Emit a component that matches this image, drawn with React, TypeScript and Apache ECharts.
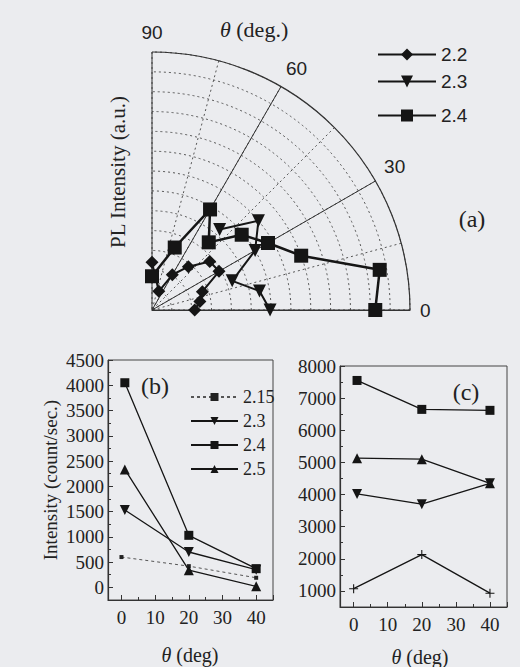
import React, { useEffect, useRef } from 'react';
import * as echarts from 'echarts';

// ---------- panel (a): polar ----------
const polarLegendNames = ['2.2', '2.3', '2.4'];
const angles22 = [90, 70, 60, 50, 40, 30, 20, 10, 0];
const radius22 = [48, 20, 41, 57, 76, 78, 54, 49, 43];
const angles23 = [50, 40, 30, 20, 10, 0];
const radius23 = [106, 140, 120, 86, 110, 119];
const angles24 = [90, 70, 60, 50, 40, 30, 20, 10, 0];
const radius24 = [34, 67, 117, 89, 118, 135, 160, 233, 225];

// ---------- panel (b) ----------
const bNames = ['2.15', '2.3', '2.4', '2.5'];
const bX215 = [0, 20, 40];
const bY215 = [600, 420, 190];
const bX = [1, 20, 40];
const bY23 = [1530, 700, 350];
const bY24 = [4050, 1030, 370];
const bY25 = [2335, 340, 20];

// ---------- panel (c) ----------
const cX215 = [0, 20, 40];
const cY215 = [1070, 2130, 930];
const cX = [1, 20, 40];
const cY23 = [4020, 3700, 4350];
const cY24 = [7550, 6650, 6620];
const cY25 = [5130, 5100, 4350];

const INK = '#151515';
const SERIF = 'Liberation Serif';
const SANS = 'Liberation Sans';
const PLUS = 'path://M4.4,0H5.6V4.4H10V5.6H5.6V10H4.4V5.6H0V4.4H4.4Z';

const zip = (xs: number[], ys: number[]) => xs.map((x, i) => [x, ys[i]]);
const polarData = (rs: number[], as: number[]) => rs.map((r, i) => [r, as[i]]);

export default function App() {
  const ref = useRef<HTMLDivElement>(null);
  useEffect(() => {
    if (!ref.current) return;
    const chart = echarts.init(ref.current, undefined, { renderer: 'svg' });

    const xAxisCommon = (gridIndex: number) => ({
      gridIndex,
      type: 'value',
      min: -4,
      max: 45,
      splitNumber: 5,
      axisLine: { onZero: false, lineStyle: { color: '#333', width: 1.2 } },
      axisTick: { inside: true, length: 5, lineStyle: { color: '#333' } },
      minorTick: { show: true, splitNumber: 2, length: 3, lineStyle: { color: '#333' } },
      axisLabel: {
        fontFamily: SERIF, fontSize: 19, color: '#222', margin: 8,
        formatter: (v: number) => (v >= 0 && v <= 40 && v % 10 === 0 ? String(v) : ''),
      },
      splitLine: { show: false },
    });
    const yAxisCommon = (gridIndex: number, min: number, max: number, split: number) => ({
      gridIndex,
      type: 'value',
      min,
      max,
      splitNumber: split,
      axisLine: { show: true, onZero: false, lineStyle: { color: '#333', width: 1.2 } },
      axisTick: { inside: true, length: 5, lineStyle: { color: '#333' } },
      minorTick: { show: true, splitNumber: 2, length: 3, lineStyle: { color: '#333' } },
      axisLabel: {
        fontFamily: SERIF, fontSize: 19, color: '#222', margin: 4,
        formatter: (v: number) => (v >= 0 && v % 500 === 0 && (min >= 0 ? v % 1000 === 0 : true) ? String(v) : ''),
      },
      splitLine: { show: false },
    });

    const legendItem = (name: string, left: number, top: number, w: number, h: number, size: number, font: string) => ({
      data: [name],
      left,
      top,
      padding: 0,
      itemWidth: w,
      itemHeight: h,
      itemGap: 0,
      selectedMode: false,
      formatter: (n: string) => n.slice(1),
      textStyle: { fontFamily: font, fontSize: size, color: '#222', padding: [0, 0, 0, 0] },
    });

    const option: any = {
      animation: false,
      polar: [
        { center: [152, 310], radius: 258 },
        { center: [152, 310], radius: 258 },
      ],
      angleAxis: [
        {
          polarIndex: 0, type: 'value', min: 0, max: 90, interval: 15,
          startAngle: 0, endAngle: 90, clockwise: false,
          axisLine: { show: true, lineStyle: { color: '#333', width: 1.2 } },
          axisTick: { show: false }, axisLabel: { show: false },
          splitLine: { show: true, lineStyle: { color: '#555', width: 1, type: [2, 3] } },
        },
        {
          polarIndex: 1, type: 'value', min: 0, max: 90, interval: 30,
          startAngle: 0, endAngle: 90, clockwise: false,
          axisLine: { show: false }, axisTick: { show: false },
          axisLabel: { show: true, margin: 10, fontSize: 19, color: '#222', fontFamily: SANS },
          splitLine: { show: true, lineStyle: { color: '#333', width: 1 } },
        },
      ],
      radiusAxis: [
        {
          polarIndex: 0, type: 'value', min: 0, max: 260, interval: 20,
          axisLine: { show: true, lineStyle: { color: '#333', width: 1.2 } },
          axisTick: { show: false }, axisLabel: { show: false },
          splitLine: { show: true, lineStyle: { color: '#555', width: 1, type: [2, 3] } },
        },
        {
          polarIndex: 1, type: 'value', min: 0, max: 260, interval: 20,
          axisLine: { show: false }, axisTick: { show: false }, axisLabel: { show: false },
          splitLine: { show: false },
        },
      ],
      grid: [
        { left: 108, top: 360, width: 165, height: 240, show: true, borderColor: '#444', borderWidth: 1, backgroundColor: 'transparent' },
        { left: 340, top: 366, width: 167, height: 241, show: true, borderColor: '#444', borderWidth: 1, backgroundColor: 'transparent' },
      ],
      xAxis: [xAxisCommon(0), xAxisCommon(1)],
      yAxis: [yAxisCommon(0, -250, 4500, 10), yAxisCommon(1, 500, 8000, 8)],
      legend: [
        legendItem('a' + polarLegendNames[0], 377, 45, 58, 15, 19, SANS),
        legendItem('a' + polarLegendNames[1], 377, 72, 58, 15, 19, SANS),
        legendItem('a' + polarLegendNames[2], 377, 106, 58, 15, 19, SANS),
        legendItem('b' + bNames[0], 190, 388, 47, 10, 18, SERIF),
        legendItem('b' + bNames[1], 190, 412, 47, 10, 18, SERIF),
        legendItem('b' + bNames[2], 190, 436, 47, 10, 18, SERIF),
        legendItem('b' + bNames[3], 190, 460, 47, 10, 18, SERIF),
      ],
      series: [
        {
          type: 'line', name: 'a' + polarLegendNames[0], coordinateSystem: 'polar', polarIndex: 0,
          data: polarData(radius22, angles22), symbol: 'diamond', symbolSize: 13,
          lineStyle: { color: INK, width: 2 }, itemStyle: { color: INK }, z: 3,
        },
        {
          type: 'line', name: 'a' + polarLegendNames[1], coordinateSystem: 'polar', polarIndex: 0,
          data: polarData(radius23, angles23), symbol: 'triangle', symbolRotate: 180, symbolSize: 13,
          lineStyle: { color: INK, width: 2 }, itemStyle: { color: INK }, z: 3,
        },
        {
          type: 'line', name: 'a' + polarLegendNames[2], coordinateSystem: 'polar', polarIndex: 0,
          data: polarData(radius24, angles24), symbol: 'rect', symbolSize: 14,
          lineStyle: { color: INK, width: 2.5 }, itemStyle: { color: INK }, z: 4,
        },
        // panel b
        {
          type: 'line', name: 'b' + bNames[0], xAxisIndex: 0, yAxisIndex: 0, data: zip(bX215, bY215),
          symbol: 'rect', symbolSize: 4, lineStyle: { color: '#555', width: 1, type: [3, 3] }, itemStyle: { color: '#222' },
        },
        {
          type: 'line', name: 'b' + bNames[1], xAxisIndex: 0, yAxisIndex: 0, data: zip(bX, bY23),
          symbol: 'triangle', symbolRotate: 180, symbolSize: 10, lineStyle: { color: INK, width: 1.3 }, itemStyle: { color: INK },
        },
        {
          type: 'line', name: 'b' + bNames[2], xAxisIndex: 0, yAxisIndex: 0, data: zip(bX, bY24),
          symbol: 'rect', symbolSize: 9, lineStyle: { color: INK, width: 1.3 }, itemStyle: { color: INK },
        },
        {
          type: 'line', name: 'b' + bNames[3], xAxisIndex: 0, yAxisIndex: 0, data: zip(bX, bY25),
          symbol: 'triangle', symbolSize: 10, lineStyle: { color: INK, width: 1.3 }, itemStyle: { color: INK },
        },
        // panel c
        {
          type: 'line', name: 'c2.15', xAxisIndex: 1, yAxisIndex: 1, data: zip(cX215, cY215),
          symbol: PLUS, symbolSize: 9, lineStyle: { color: INK, width: 1.3 }, itemStyle: { color: INK },
        },
        {
          type: 'line', name: 'c2.3', xAxisIndex: 1, yAxisIndex: 1, data: zip(cX, cY23),
          symbol: 'triangle', symbolRotate: 180, symbolSize: 10, lineStyle: { color: INK, width: 1.3 }, itemStyle: { color: INK },
        },
        {
          type: 'line', name: 'c2.4', xAxisIndex: 1, yAxisIndex: 1, data: zip(cX, cY24),
          symbol: 'rect', symbolSize: 9, lineStyle: { color: INK, width: 1.3 }, itemStyle: { color: INK },
        },
        {
          type: 'line', name: 'c2.5', xAxisIndex: 1, yAxisIndex: 1, data: zip(cX, cY25),
          symbol: 'triangle', symbolSize: 10, lineStyle: { color: INK, width: 1.3 }, itemStyle: { color: INK },
        },
      ],
      graphic: [
        {
          type: 'text', left: 220, top: 18,
          style: { text: '{i|θ} (deg.)', fontFamily: SERIF, fontSize: 22, fill: '#222',
            rich: { i: { fontStyle: 'italic', fontFamily: SERIF, fontSize: 22, fill: '#222' } } },
        },
        {
          type: 'text', x: 118, y: 172, rotation: Math.PI / 2,
          style: { text: 'PL Intensity (a.u.)', fontFamily: SERIF, fontSize: 21, fill: '#222', align: 'center', verticalAlign: 'middle' },
        },
        {
          type: 'text', x: 472, y: 219,
          style: { text: '(a)', fontFamily: SERIF, fontSize: 24, fill: '#222', align: 'center', verticalAlign: 'middle' },
        },
        {
          type: 'text', x: 155, y: 386,
          style: { text: '(b)', fontFamily: SERIF, fontSize: 24, fill: '#222', align: 'center', verticalAlign: 'middle' },
        },
        {
          type: 'text', x: 466, y: 392,
          style: { text: '(c)', fontFamily: SERIF, fontSize: 24, fill: '#222', align: 'center', verticalAlign: 'middle' },
        },
        {
          type: 'text', x: 50, y: 480, rotation: Math.PI / 2,
          style: { text: 'Intensity (count/sec.)', fontFamily: SERIF, fontSize: 19, fill: '#222', align: 'center', verticalAlign: 'middle' },
        },
        {
          type: 'text', x: 190, y: 655,
          style: { text: '{i|θ} (deg)', fontFamily: SERIF, fontSize: 20, fill: '#222', align: 'center', verticalAlign: 'middle',
            rich: { i: { fontStyle: 'italic', fontFamily: SERIF, fontSize: 20, fill: '#222' } } },
        },
        {
          type: 'text', x: 420, y: 657,
          style: { text: '{i|θ} (deg)', fontFamily: SERIF, fontSize: 20, fill: '#222', align: 'center', verticalAlign: 'middle',
            rich: { i: { fontStyle: 'italic', fontFamily: SERIF, fontSize: 20, fill: '#222' } } },
        },
      ],
    };
    chart.setOption(option);
    return () => chart.dispose();
  }, []);

  return (
    <div
      ref={ref}
      style={{ position: 'fixed', left: 0, top: 0, width: 520, height: 667, background: '#ebecef' }}
    />
  );
}
